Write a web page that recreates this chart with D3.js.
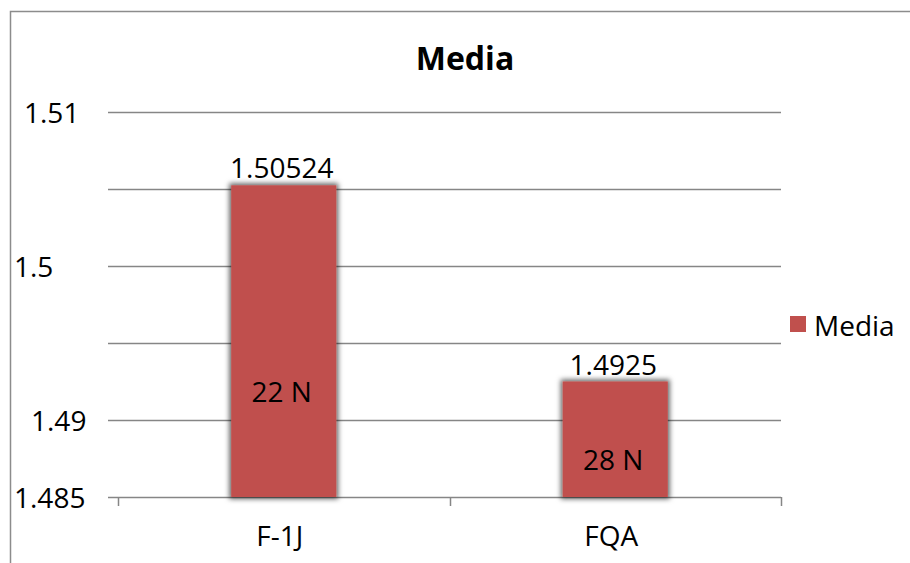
<!DOCTYPE html>
<html>
<head>
<meta charset="utf-8">
<script src="https://cdn.jsdelivr.net/npm/d3@7"></script>
<style>
  html, body { margin: 0; padding: 0; background: #fff; }
  svg { display: block; font-family: "Open Sans", "DejaVu Sans", sans-serif; }
</style>
</head>
<body>
<svg id="chart" width="910" height="563"></svg>
<script>
// ---- data ----
const categories = ["F-1J", "FQA"];
const mediaValues = [1.50524, 1.4925];
const valueLabels = ["1.50524", "1.4925"];
const nLabels = ["22 N", "28 N"];
const nLabelLevels = [1.4912, 1.48675];
const yTicks = [1.485, 1.49, 1.495, 1.5, 1.505, 1.51];
const yTickLabels = ["1.485", "1.49", "", "1.5", "", "1.51"];
const seriesName = "Media";
const chartTitle = "Media";

// ---- layout ----
const svg = d3.select("#chart");
const barColor = "#C0504D";
const gridColor = "#868686";
const fs = 28;
const plot = { left: 118, right: 781, top: 112, bottom: 497 };
const labelStartX = { "1.51": 24, "1.5": 14, "1.49": 31, "1.485": 14 };

const x = d3.scaleBand()
  .domain(categories)
  .range([plot.left, plot.right])
  .paddingInner(0.683)
  .paddingOuter(0.3415);

const y = d3.scaleLinear()
  .domain([1.485, 1.51])
  .range([plot.bottom, plot.top]);

// shadow filter
const defs = svg.append("defs");
const f = defs.append("filter").attr("id", "shadow")
  .attr("x", "-20%").attr("y", "-20%").attr("width", "140%").attr("height", "140%");
f.append("feMorphology").attr("in", "SourceAlpha").attr("operator", "dilate").attr("radius", 2).attr("result", "d");
f.append("feGaussianBlur").attr("in", "d").attr("stdDeviation", 2.5).attr("result", "b");
f.append("feFlood").attr("flood-color", "#000").attr("flood-opacity", 0.6);
f.append("feComposite").attr("in2", "b").attr("operator", "in").attr("result", "s");
const m = f.append("feMerge");
m.append("feMergeNode").attr("in", "s");
m.append("feMergeNode").attr("in", "SourceGraphic");

// outer border (top + left)
svg.append("path")
  .attr("d", "M10.5,563 L10.5,11.5 L910,11.5")
  .attr("fill", "none").attr("stroke", "#8c8c8c").attr("stroke-width", 1.5);

// title
svg.append("text")
  .attr("x", 465).attr("y", 70)
  .attr("text-anchor", "middle")
  .attr("font-size", 32).attr("font-weight", "bold")
  .text(chartTitle);

// gridlines
svg.append("g").selectAll("line")
  .data(yTicks)
  .join("line")
  .attr("x1", plot.left - 10).attr("x2", plot.right)
  .attr("y1", d => Math.round(y(d)) + 0.5).attr("y2", d => Math.round(y(d)) + 0.5)
  .attr("stroke", gridColor).attr("stroke-width", 1.5);

// y tick labels
svg.append("g").selectAll("text")
  .data(yTicks.map((t, i) => ({ t, label: yTickLabels[i] })).filter(d => d.label !== ""))
  .join("text")
  .attr("x", d => labelStartX[d.label] !== undefined ? labelStartX[d.label] : 14)
  .attr("y", d => y(d.t) + 10.5)
  .attr("font-size", fs)
  .attr("fill", "#000")
  .text(d => d.label);

// x axis
const xAxis = d3.axisBottom(x).tickSize(0).tickFormat(d => d);
const xg = svg.append("g").attr("transform", `translate(0,${plot.bottom})`).call(xAxis);
xg.select(".domain").remove();
xg.selectAll("text").attr("font-size", fs).attr("font-family", "Open Sans, sans-serif")
  .attr("fill", "#000").attr("dy", null).attr("y", 49).attr("dx", -4);
// axis ticks at band boundaries
const bounds = [plot.left, ...categories.map(c => x(c) + x.bandwidth() / 2 + x.step() / 2)];
svg.append("g").selectAll("line")
  .data(bounds)
  .join("line")
  .attr("x1", d => Math.round(d) + 0.5).attr("x2", d => Math.round(d) + 0.5)
  .attr("y1", plot.bottom).attr("y2", plot.bottom + 9)
  .attr("stroke", gridColor).attr("stroke-width", 1.5);

// bars
svg.append("g").selectAll("rect")
  .data(mediaValues)
  .join("rect")
  .attr("x", (d, i) => x(categories[i]))
  .attr("width", x.bandwidth())
  .attr("y", d => y(d))
  .attr("height", d => plot.bottom - y(d))
  .attr("fill", barColor)
  .attr("filter", "url(#shadow)");

// value labels
svg.append("g").selectAll("text")
  .data(mediaValues)
  .join("text")
  .attr("x", (d, i) => x(categories[i]) + x.bandwidth() / 2 - 2)
  .attr("y", d => y(d) - 7)
  .attr("text-anchor", "middle")
  .attr("font-size", fs)
  .text((d, i) => valueLabels[i]);

// N labels
svg.append("g").selectAll("text")
  .data(nLabels)
  .join("text")
  .attr("x", (d, i) => x(categories[i]) + x.bandwidth() / 2 - 2)
  .attr("y", (d, i) => y(nLabelLevels[i]))
  .attr("text-anchor", "middle")
  .attr("font-size", fs)
  .text(d => d);

// legend
const lg = svg.append("g");
lg.append("rect").attr("x", 790).attr("y", 316).attr("width", 16).attr("height", 16).attr("fill", barColor);
lg.append("text").attr("x", 814).attr("y", 336).attr("font-size", fs).text(seriesName);
</script>
</body>
</html>
